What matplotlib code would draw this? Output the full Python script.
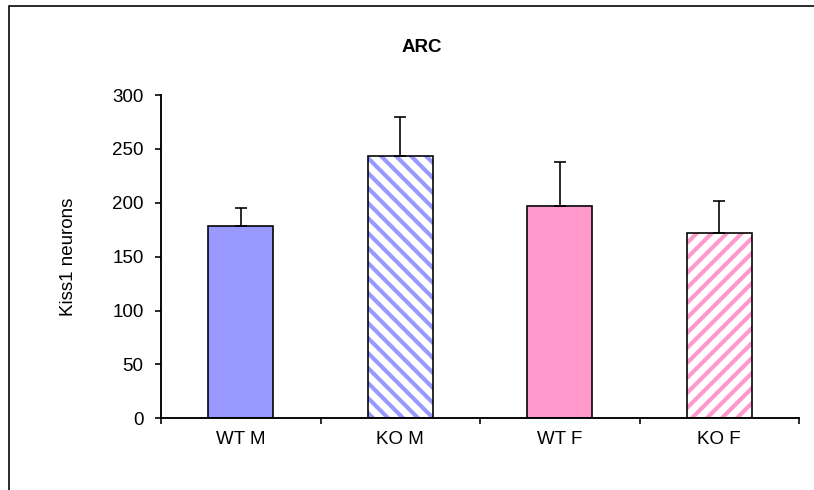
import matplotlib
matplotlib.use("Agg")
import matplotlib.pyplot as plt
from matplotlib.patches import Rectangle

plt.rcParams['font.family'] = ['Liberation Sans', 'DejaVu Sans']
plt.rcParams['hatch.linewidth'] = 3.3

categories = ["WT M", "KO M", "WT F", "KO F"]
means = [178, 243, 197, 172]
errors = [17.5, 36.5, 41, 30]
colors = ["#9999FF", "#9999FF", "#FF99CC", "#FF99CC"]
hatches = ["", "\\\\", "", "//"]
yticks = [0, 50, 100, 150, 200, 250, 300]

DPI = 90
fig = plt.figure(figsize=(814 / DPI, 490 / DPI), dpi=DPI)
W, H = 814, 490

# outer chart frame
fig.patches.append(Rectangle((8.5 / W, -0.2), 1.2, (490 - 5.5) / H + 0.2,
                             transform=fig.transFigure, fill=False,
                             edgecolor="#000000", linewidth=1.3, zorder=0))

left, right, top, bottom = 161, 799, 95, 418.3
ax = fig.add_axes([left / W, (H - bottom) / H, (right - left) / W, (bottom - top) / H])

x = list(range(len(categories)))
width = 0.41
for xi, m, c, h in zip(x, means, colors, hatches):
    if h:
        ax.bar(xi, m, width=width, color="white", edgecolor=c, hatch=h, linewidth=0, zorder=2)
    else:
        ax.bar(xi, m, width=width, color=c, linewidth=0, zorder=2)
    ax.bar(xi, m, width=width, fill=False, edgecolor="black", linewidth=1.3, zorder=3)

ax.errorbar(x, means, yerr=[[0] * len(means), errors], fmt="none", ecolor="black",
            elinewidth=1.3, capsize=4.5, capthick=1.3, zorder=4)

ax.set_xlim(-0.5, len(categories) - 0.5)
ax.set_ylim(0, 300)
ax.set_yticks(yticks)
ax.set_yticklabels([str(v) for v in yticks], fontsize=15)
ax.set_xticks(x)
ax.set_xticklabels(categories, fontsize=15)
ax.tick_params(axis="x", length=0, pad=10)
ax.set_xticks([i - 0.5 for i in range(len(categories) + 1)], minor=True)
ax.tick_params(axis="x", which="minor", length=5, width=1.3, direction="out")
ax.tick_params(axis="y", length=5, width=1.3, direction="out", pad=9)

for s in ["top", "right"]:
    ax.spines[s].set_visible(False)
for s in ["left", "bottom"]:
    ax.spines[s].set_linewidth(1.5)

ax.set_ylabel("Kiss1 neurons", fontsize=15, labelpad=28)
fig.text(422 / W, 1 - 47 / H, "ARC", ha="center", va="center", fontsize=15, fontweight="bold")

fig.savefig("out.png", dpi=DPI)
